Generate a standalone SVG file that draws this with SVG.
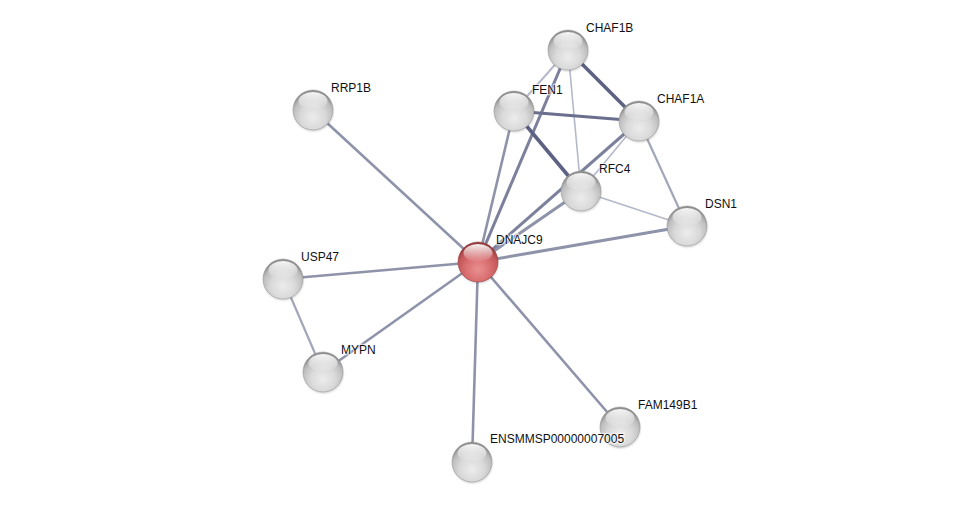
<svg xmlns="http://www.w3.org/2000/svg" xmlns:xlink="http://www.w3.org/1999/xlink" width="975" height="507" viewBox="0 0 975 507">
<style>
.lbl{font-family:"Liberation Sans",Arial,sans-serif;font-size:12px;fill:#111;stroke:#fff;stroke-width:2.5px;stroke-opacity:0.6;paint-order:stroke;}
.e{fill:none;stroke-linecap:butt;}
.m{stroke:#8f93aa;stroke-width:2.6;}
.d{stroke:#5d6283;stroke-width:3.6;}
.l{stroke:#b4b8c8;stroke-width:1.6;}
.ml{stroke:#a2a6b9;stroke-width:2.2;}
</style>
<defs>
<radialGradient id="gg" cx="50%" cy="68%" r="62%">
<stop offset="0" stop-color="#ececec"/>
<stop offset="0.5" stop-color="#d9d9d9"/>
<stop offset="0.82" stop-color="#bdbdbd"/>
<stop offset="1" stop-color="#8e8e8e"/>
</radialGradient>
<radialGradient id="rg" cx="50%" cy="68%" r="62%">
<stop offset="0" stop-color="#e99091"/>
<stop offset="0.5" stop-color="#d96e70"/>
<stop offset="0.82" stop-color="#c25658"/>
<stop offset="1" stop-color="#943a3c"/>
</radialGradient>
<linearGradient id="hl" x1="0" y1="0" x2="0" y2="1">
<stop offset="0" stop-color="#fff" stop-opacity="0.95"/>
<stop offset="1" stop-color="#fff" stop-opacity="0.0"/>
</linearGradient>
<radialGradient id="sh" cx="50%" cy="50%" r="50%">
<stop offset="0.82" stop-color="#000" stop-opacity="0.2"/>
<stop offset="1" stop-color="#000" stop-opacity="0"/>
</radialGradient>
<g id="gs">
<circle cx="0.5" cy="1.5" r="21.5" fill="url(#sh)"/>
<circle r="20" fill="url(#gg)" stroke="#9a9a9a" stroke-width="0.6"/>
<ellipse cx="0" cy="-9" rx="14.5" ry="9" fill="url(#hl)"/>
</g>
<g id="rs">
<circle cx="0.5" cy="1.5" r="21.5" fill="url(#sh)"/>
<circle r="20" fill="url(#rg)" stroke="#9a4446" stroke-width="0.6"/>
<ellipse cx="0" cy="-9" rx="14.5" ry="9" fill="url(#hl)"/>
</g>
</defs>
<rect width="975" height="507" fill="#fff"/>
<g id="edges">
<line class="e m" x1="478" y1="262" x2="313" y2="110"/>
<line class="e m" x1="478" y1="262" x2="283" y2="279"/>
<line class="e m" x1="478" y1="262" x2="323" y2="372"/>
<line class="e m" x1="478" y1="262" x2="620" y2="427"/>
<line class="e m" x1="478" y1="262" x2="472" y2="462"/>
<line class="e m" x1="478" y1="262" x2="687" y2="226" style="stroke-width:3"/>
<line class="e m" x1="478" y1="262" x2="514" y2="111"/>
<line class="e m" x1="478" y1="262" x2="568" y2="50" style="stroke:#7c809b;stroke-width:3"/>
<line class="e m" x1="478" y1="262" x2="581" y2="191" style="stroke-width:3"/>
<line class="e m" x1="478" y1="262" x2="639" y2="121" style="stroke:#7c809b;stroke-width:3"/>
<line class="e ml" x1="283" y1="279" x2="323" y2="372"/>
<line class="e l" x1="568" y1="50" x2="514" y2="111" style="stroke-width:2"/>
<line class="e d" x1="568" y1="50" x2="639" y2="121"/>
<line class="e l" x1="568" y1="50" x2="581" y2="191"/>
<line class="e d" x1="514" y1="111" x2="639" y2="121" style="stroke:#6a6f8e;stroke-width:3.2"/>
<line class="e d" x1="514" y1="111" x2="581" y2="191"/>
<line class="e l" x1="639" y1="121" x2="581" y2="191"/>
<line class="e ml" x1="639" y1="121" x2="687" y2="226"/>
<line class="e l" x1="581" y1="191" x2="687" y2="226"/>
</g>
<g id="CHAF1B"><use href="#gs" x="568" y="50"/><text class="lbl" x="586" y="32">CHAF1B</text></g>
<g id="FEN1"><use href="#gs" x="514" y="111"/><text class="lbl" x="532" y="94">FEN1</text></g>
<g id="CHAF1A"><use href="#gs" x="639" y="121"/><text class="lbl" x="657" y="103">CHAF1A</text></g>
<g id="RFC4"><use href="#gs" x="581" y="191"/><text class="lbl" x="599" y="173">RFC4</text></g>
<g id="DSN1"><use href="#gs" x="687" y="226"/><text class="lbl" x="705" y="208">DSN1</text></g>
<g id="RRP1B"><use href="#gs" x="313" y="110"/><text class="lbl" x="331" y="92">RRP1B</text></g>
<g id="USP47"><use href="#gs" x="283" y="279"/><text class="lbl" x="301" y="261">USP47</text></g>
<g id="MYPN"><use href="#gs" x="323" y="372"/><text class="lbl" x="341" y="354">MYPN</text></g>
<g id="FAM149B1"><use href="#gs" x="620" y="427"/><text class="lbl" x="638" y="409">FAM149B1</text></g>
<g id="ENSMMSP00000007005"><use href="#gs" x="472" y="462"/><text class="lbl" x="490" y="443">ENSMMSP00000007005</text></g>
<g id="DNAJC9"><use href="#rs" x="478" y="262"/><text class="lbl" x="496" y="244">DNAJC9</text></g>
</svg>
